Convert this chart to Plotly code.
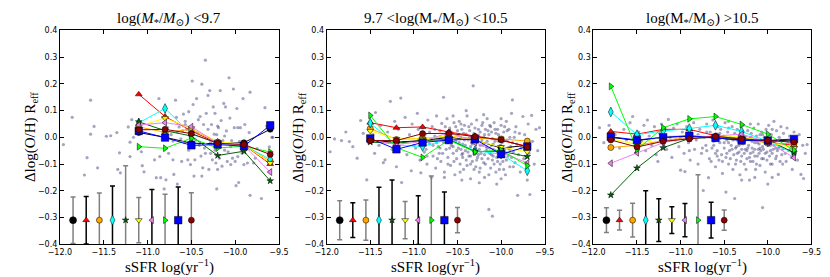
import plotly.graph_objects as go

# ---------------- data ----------------
series_names = ["black", "red", "orange", "cyan", "darkgreen", "yellow", "violet", "lime", "blue", "darkred"]
series_colors = ["#000000", "#ff0000", "#ffa500", "#00ffff", "#006400", "#ffff00", "#ee82ee", "#00ff00", "#0000ff", "#8b0000"]
series_symbols = ["circle", "triangle-up", "circle", "diamond-tall", "star", "triangle-down", "triangle-left", "triangle-right", "square", "circle"]

bins1 = [-11.1, -10.8, -10.5, -10.2, -9.9, -9.6]
vals1 = [
    [0.018, 0.000, -0.022, -0.024, -0.020, 0.030],
    [0.161, 0.078, 0.024, -0.022, -0.028, -0.100],
    [0.039, 0.019, 0.030, -0.018, -0.027, -0.090],
    [0.054, 0.108, 0.012, -0.022, -0.030, -0.082],
    [0.058, 0.025, 0.005, -0.068, -0.052, -0.163],
    [0.041, 0.072, 0.034, -0.016, -0.027, -0.096],
    [0.046, 0.055, 0.040, -0.022, -0.030, -0.130],
    [-0.035, -0.041, -0.003, -0.040, -0.033, -0.055],
    [0.024, -0.001, -0.030, -0.027, -0.033, 0.045],
    [0.028, 0.030, 0.014, -0.022, -0.027, -0.064],
]

bins2 = [-11.5, -11.2, -10.9, -10.6, -10.3, -10.0, -9.7]
vals2 = [
    [-0.012, -0.018, -0.012, 0.000, -0.010, -0.040, -0.030],
    [0.055, 0.036, 0.039, 0.020, 0.005, -0.012, -0.033],
    [0.033, -0.008, -0.004, 0.004, -0.004, -0.006, -0.014],
    [0.053, -0.030, -0.034, -0.007, -0.050, -0.063, -0.125],
    [-0.018, -0.022, -0.012, -0.008, -0.053, -0.052, -0.072],
    [0.024, -0.006, -0.006, 0.006, -0.012, -0.036, -0.054],
    [-0.010, -0.027, -0.016, 0.018, -0.020, -0.054, -0.096],
    [0.082, -0.039, -0.075, -0.010, -0.055, -0.048, -0.106],
    [-0.004, -0.045, -0.019, -0.010, -0.007, -0.063, -0.034],
    [-0.012, -0.012, 0.014, 0.015, 0.003, -0.009, -0.036],
]

bins3 = [-11.8, -11.5, -11.2, -10.9, -10.6, -10.3, -10.0, -9.7]
vals3 = [
    [0.000, -0.012, 0.000, 0.004, -0.002, -0.010, -0.014, -0.010],
    [0.022, 0.012, 0.030, 0.030, 0.006, -0.006, -0.020, -0.030],
    [-0.038, -0.030, -0.012, 0.000, 0.002, -0.004, -0.022, -0.024],
    [0.095, 0.010, 0.024, 0.033, 0.045, 0.022, -0.015, -0.060],
    [-0.216, -0.115, -0.039, -0.004, 0.000, -0.006, -0.010, -0.057],
    [-0.005, -0.027, 0.004, 0.008, 0.002, 0.002, -0.018, -0.040],
    [-0.097, -0.058, -0.020, -0.002, 0.004, 0.012, -0.018, -0.076],
    [0.191, -0.046, 0.036, 0.069, 0.078, 0.048, 0.012, -0.048],
    [0.002, -0.010, 0.000, 0.006, -0.002, -0.012, -0.012, -0.006],
    [-0.010, -0.036, -0.015, -0.006, 0.004, -0.006, -0.012, -0.018],
]

err_x = [-11.85, -11.70, -11.55, -11.40, -11.25, -11.10, -10.95, -10.80, -10.65, -10.50]
err_y = -0.31
err1 = [0.087, 0.089, 0.102, 0.128, 0.204, 0.085, 0.115, 0.097, 0.124, 0.103]
err2 = [0.073, 0.065, 0.075, 0.123, 0.150, 0.070, 0.091, 0.165, 0.105, 0.047]
err3 = [0.046, 0.037, 0.063, 0.110, 0.080, 0.050, 0.062, 0.170, 0.067, 0.038]
errcol1 = ["g", "k", "g", "k", "g", "g", "k", "g", "k", "g"]
errcol2 = ["g", "k", "g", "k", "k", "g", "k", "g", "k", "g"]
errcol3 = ["g", "g", "g", "k", "k", "k", "k", "g", "k", "g"]

scatter1 = [
    (-11.96, -0.027), (-11.86, 0.075), (-11.65, 0.139), (-11.61, 0.041), (-11.65, 0.012), (-11.69, -0.076),
    (-11.72, -0.141), (-11.57, -0.114), (-11.47, 0.004), (-11.42, 0.006), (-11.35, 0.018), (-11.32, -0.058),
    (-11.34, -0.120), (-11.31, -0.133), (-11.22, 0.039), (-11.20, -0.018), (-11.20, -0.072), (-11.18, 0.066),
    (-11.16, 0.000), (-11.07, -0.054), (-11.06, -0.106), (-11.04, -0.129), (-10.92, -0.084), (-10.90, -0.151),
    (-10.87, 0.145), (-10.86, -0.072), (-10.85, -0.151), (-10.81, -0.193), (-10.79, -0.159), (-10.77, 0.036),
    (-10.76, -0.060), (-10.73, 0.010), (-10.71, -0.014), (-10.71, -0.084), (-10.70, -0.139), (-10.68, 0.139),
    (-10.67, 0.075), (-10.66, -0.175), (-10.64, 0.039), (-10.62, -0.006), (-10.61, -0.090), (-10.60, 0.024),
    (-10.59, 0.087), (-10.57, 0.048), (-10.57, 0.060), (-10.55, 0.030), (-10.54, -0.084), (-10.53, 0.096),
    (-10.53, -0.048), (-10.51, -0.102), (-10.49, 0.211), (-10.48, 0.123), (-10.47, -0.036), (-10.47, -0.145),
    (-10.46, -0.084), (-10.44, 0.145), (-10.43, 0.018), (-10.42, 0.066), (-10.41, -0.030), (-10.40, 0.078),
    (-10.38, 0.199), (-10.38, -0.145), (-10.37, -0.114), (-10.36, 0.048), (-10.34, 0.289), (-10.34, -0.060),
    (-10.33, 0.090), (-10.31, 0.030), (-10.31, 0.157), (-10.30, -0.120), (-10.29, 0.175), (-10.28, -0.018),
    (-10.27, 0.048), (-10.26, -0.084), (-10.25, 0.114), (-10.24, 0.012), (-10.23, 0.090), (-10.23, -0.048),
    (-10.22, -0.096), (-10.21, -0.193), (-10.20, -0.120), (-10.20, 0.042), (-10.19, 0.036), (-10.18, -0.078),
    (-10.17, 0.175), (-10.16, 0.063), (-10.15, -0.108), (-10.14, -0.012), (-10.13, 0.127), (-10.12, -0.048),
    (-10.11, 0.114), (-10.10, 0.024), (-10.09, -0.090), (-10.08, -0.054), (-10.07, 0.223), (-10.06, 0.072),
    (-10.05, -0.102), (-10.04, -0.012), (-10.03, -0.078), (-10.02, 0.181), (-10.01, 0.036), (-10.00, -0.090),
    (-9.99, -0.181), (-9.98, 0.108), (-9.97, 0.036), (-9.97, -0.072), (-9.96, -0.169), (-9.94, 0.036),
    (-9.92, -0.060), (-9.91, 0.145), (-9.90, -0.102), (-9.89, 0.048), (-9.88, -0.030), (-9.86, -0.096),
    (-9.84, 0.018), (-9.83, 0.169), (-9.83, -0.217), (-9.79, -0.096), (-9.77, -0.078), (-9.75, -0.042),
    (-9.70, -0.229), (-9.66, 0.111), (-9.64, 0.042), (-9.61, -0.036), (-9.58, 0.000), (-9.57, 0.000),
    (-10.45, -0.010), (-10.35, -0.040), (-10.28, -0.060), (-10.18, -0.025), (-10.12, 0.005), (-10.05, -0.035),
    (-10.58, -0.020), (-10.66, 0.020), (-10.39, -0.070), (-10.21, 0.010), (-9.95, -0.015), (-10.52, 0.005),
]

scatter2 = [
    (-11.96, -0.054), (-11.91, -0.006), (-11.83, -0.012), (-11.78, 0.020), (-11.74, -0.016), (-11.70, -0.035),
    (-11.65, -0.078), (-11.61, 0.063), (-11.58, 0.015), (-11.54, -0.159), (-11.52, -0.020), (-11.47, 0.010),
    (-11.45, -0.060), (-11.44, 0.093), (-11.40, -0.030), (-11.38, 0.045), (-11.35, -0.095), (-11.33, -0.084),
    (-11.30, 0.020), (-11.27, 0.135), (-11.25, -0.045), (-11.22, 0.060), (-11.20, -0.110), (-11.18, 0.030),
    (-11.15, 0.147), (-11.14, -0.169), (-11.12, -0.020), (-11.10, 0.075), (-11.08, -0.065), (-11.05, 0.010),
    (-11.03, -0.125), (-11.02, 0.050),
    (-10.98, -0.040), (-10.96, 0.090), (-10.95, -0.010), (-10.93, -0.085), (-10.92, -0.133), (-10.90, 0.035),
    (-10.88, -0.055), (-10.87, 0.012), (-10.85, -0.100), (-10.84, 0.065), (-10.82, -0.025), (-10.80, -0.150),
    (-10.79, 0.040), (-10.78, -0.070), (-10.76, 0.005), (-10.75, -0.115), (-10.74, 0.080), (-10.72, -0.035),
    (-10.71, -0.060), (-10.70, 0.025), (-10.69, -0.090), (-10.68, 0.052), (-10.66, 0.150), (-10.66, -0.018),
    (-10.65, -0.130), (-10.64, 0.010), (-10.63, -0.045), (-10.62, 0.070), (-10.61, -0.075), (-10.60, -0.005),
    (-10.59, 0.035), (-10.58, -0.105), (-10.57, -0.030), (-10.56, 0.015), (-10.55, -0.060), (-10.54, 0.055),
    (-10.53, -0.140), (-10.52, -0.015), (-10.51, -0.080), (-10.50, 0.025),
    (-10.49, -0.040), (-10.48, 0.060), (-10.47, -0.100), (-10.46, 0.000), (-10.45, -0.065), (-10.45, 0.030),
    (-10.44, -0.025), (-10.43, -0.120), (-10.42, 0.045), (-10.41, -0.050), (-10.40, 0.012), (-10.40, -0.085),
    (-10.39, 0.080), (-10.38, -0.010), (-10.37, -0.070), (-10.36, 0.025), (-10.35, -0.035), (-10.35, -0.155),
    (-10.34, 0.050), (-10.33, -0.090), (-10.32, 0.193), (-10.32, -0.005), (-10.31, -0.055), (-10.30, 0.035),
    (-10.29, -0.110), (-10.28, -0.020), (-10.28, 0.065), (-10.27, -0.075), (-10.26, 0.008), (-10.25, -0.045),
    (-10.25, -0.130), (-10.24, 0.020), (-10.23, -0.060), (-10.22, 0.045), (-10.21, -0.030), (-10.20, -0.095),
    (-10.20, 0.000), (-10.19, -0.150), (-10.18, 0.030), (-10.17, -0.050), (-10.16, -0.015), (-10.16, 0.070),
    (-10.15, -0.080), (-10.14, -0.270), (-10.14, 0.010), (-10.13, -0.040), (-10.12, -0.115), (-10.12, 0.040),
    (-10.11, -0.065), (-10.10, -0.295), (-10.10, -0.005), (-10.09, -0.025), (-10.08, 0.055), (-10.08, -0.100),
    (-10.07, -0.050), (-10.06, 0.015), (-10.05, -0.075), (-10.05, -0.175), (-10.04, 0.030), (-10.03, -0.035),
    (-10.02, -0.120), (-10.02, 0.000), (-10.01, -0.060), (-10.00, 0.045),
    (-9.99, -0.020), (-9.98, -0.090), (-9.97, 0.020), (-9.96, -0.045), (-9.95, -0.140), (-9.94, 0.060),
    (-9.93, -0.010), (-9.92, -0.070), (-9.91, 0.030), (-9.90, -0.110), (-9.89, -0.035), (-9.88, 0.090),
    (-9.87, 0.140), (-9.86, -0.055), (-9.85, 0.000), (-9.84, -0.095), (-9.83, 0.040), (-9.82, -0.025),
    (-9.81, -0.217), (-9.80, -0.065), (-9.79, 0.015), (-9.78, -0.130), (-9.77, -0.040), (-9.75, 0.078),
    (-9.74, -0.080), (-9.73, 0.010), (-9.72, -0.030), (-9.70, -0.160), (-9.69, 0.050), (-9.68, -0.060),
    (-9.67, -0.214), (-9.65, 0.082), (-9.64, -0.015), (-9.62, -0.100), (-9.60, 0.030), (-9.58, -0.050),
    (-9.56, 0.036),
    (-10.62, -0.020), (-10.58, 0.005), (-10.55, -0.035), (-10.52, 0.040), (-10.48, -0.020), (-10.46, -0.045),
    (-10.43, 0.015), (-10.41, -0.030), (-10.38, -0.055), (-10.36, 0.000), (-10.34, -0.020), (-10.31, 0.015),
    (-10.29, -0.040), (-10.27, -0.010), (-10.24, -0.030), (-10.22, -0.080), (-10.19, 0.010), (-10.17, -0.035),
    (-10.15, 0.025), (-10.13, -0.060), (-10.11, 0.020), (-10.09, -0.045), (-10.07, -0.015), (-10.04, -0.055),
    (-10.01, -0.030), (-9.98, 0.000), (-9.95, -0.060), (-9.93, 0.025), (-9.90, -0.045), (-9.87, -0.020),
    (-10.70, -0.040), (-10.74, -0.020), (-10.80, -0.005), (-10.86, -0.045), (-10.92, 0.005), (-11.00, -0.030),
    (-10.44, -0.075), (-10.26, -0.065), (-10.10, -0.085), (-10.35, -0.100),
    (-10.78, -0.030), (-10.76, 0.030), (-10.73, -0.080), (-10.69, 0.000), (-10.67, -0.060), (-10.64, 0.040),
    (-10.61, -0.100), (-10.59, -0.040), (-10.57, 0.020), (-10.54, -0.090), (-10.51, -0.050), (-10.49, 0.010),
    (-10.47, -0.130), (-10.46, 0.050), (-10.44, -0.060), (-10.42, -0.010), (-10.39, -0.105), (-10.37, 0.040),
    (-10.35, -0.070), (-10.33, -0.025), (-10.31, -0.120), (-10.30, 0.000), (-10.28, -0.085), (-10.26, 0.030),
    (-10.24, -0.115), (-10.22, -0.010), (-10.21, 0.055), (-10.19, -0.065), (-10.18, -0.100), (-10.16, -0.040),
    (-10.14, -0.140), (-10.13, 0.045), (-10.11, -0.030), (-10.09, -0.070), (-10.07, 0.030), (-10.06, -0.130),
    (-10.04, -0.090), (-10.03, 0.010), (-10.01, -0.100), (-9.99, -0.050), (-9.97, -0.120), (-9.96, 0.040),
    (-9.94, -0.085), (-9.92, -0.040), (-9.90, 0.000), (-9.88, -0.075), (-9.86, -0.110), (-9.84, 0.020),
    (-10.55, 0.080), (-10.40, 0.100), (-10.20, 0.085), (-10.00, 0.070), (-10.65, -0.150), (-10.45, -0.160),
    (-10.25, -0.170), (-10.00, -0.155), (-10.85, -0.070), (-10.90, -0.020), (-10.95, 0.030), (-10.82, 0.020),
]

scatter3 = [
    (-11.93, 0.036), (-11.88, -0.020), (-11.82, 0.045), (-11.75, 0.010), (-11.70, -0.040), (-11.65, 0.030),
    (-11.62, -0.010), (-11.58, 0.055), (-11.55, 0.078), (-11.52, -0.030), (-11.48, 0.020), (-11.45, -0.015),
    (-11.42, 0.045), (-11.40, -0.050), (-11.38, 0.065), (-11.36, 0.005), (-11.33, -0.030), (-11.30, 0.040),
    (-11.28, -0.065), (-11.26, -0.090), (-11.24, 0.015), (-11.22, 0.050), (-11.20, -0.020), (-11.18, 0.030),
    (-11.16, -0.045), (-11.14, 0.067), (-11.12, 0.000), (-11.10, -0.075), (-11.08, 0.035), (-11.06, -0.010),
    (-11.04, 0.050), (-11.02, -0.035), (-11.00, -0.123), (-10.98, 0.020), (-10.96, -0.060), (-10.95, -0.128),
    (-10.93, 0.040), (-10.91, -0.020), (-10.89, -0.085), (-10.87, 0.010), (-10.85, 0.055), (-10.84, -0.045),
    (-10.82, -0.010), (-10.80, -0.100), (-10.78, 0.030), (-10.76, -0.060), (-10.74, -0.199), (-10.73, 0.000),
    (-10.71, -0.030), (-10.70, 0.050), (-10.68, -0.151), (-10.67, -0.080), (-10.66, 0.020), (-10.64, -0.040),
    (-10.63, 0.065), (-10.62, -0.015), (-10.60, -0.110), (-10.59, 0.010), (-10.58, -0.050), (-10.57, 0.040),
    (-10.56, -0.085), (-10.55, -0.020), (-10.54, 0.030), (-10.53, -0.065), (-10.52, -0.135), (-10.51, 0.005),
    (-10.50, -0.040),
    (-10.49, 0.055), (-10.48, -0.205), (-10.48, -0.075), (-10.47, -0.010), (-10.46, 0.020), (-10.45, -0.100),
    (-10.44, -0.050), (-10.43, 0.000), (-10.42, -0.030), (-10.41, 0.040), (-10.40, -0.120), (-10.39, -0.065),
    (-10.38, -0.229), (-10.38, 0.015), (-10.37, -0.040), (-10.36, -0.085), (-10.35, 0.030), (-10.34, -0.015),
    (-10.33, -0.055), (-10.32, -0.140), (-10.31, 0.010), (-10.30, -0.070), (-10.29, -0.025), (-10.28, 0.045),
    (-10.27, -0.100), (-10.26, -0.045), (-10.25, 0.000), (-10.24, -0.080), (-10.23, 0.025), (-10.22, -0.030),
    (-10.21, -0.160), (-10.20, -0.060), (-10.19, 0.015), (-10.18, -0.015), (-10.17, -0.090), (-10.16, 0.035),
    (-10.15, -0.045), (-10.14, -0.120), (-10.13, 0.005), (-10.12, -0.070), (-10.11, 0.050), (-10.10, -0.025),
    (-10.09, -0.105), (-10.08, -0.050), (-10.07, 0.020), (-10.06, -0.263), (-10.06, -0.035), (-10.05, -0.080),
    (-10.04, 0.000), (-10.03, -0.130), (-10.02, 0.030), (-10.01, -0.055), (-10.00, -0.175), (-10.00, -0.015),
    (-9.99, 0.045), (-9.98, -0.070), (-9.97, -0.030), (-9.96, 0.010), (-9.95, -0.100), (-9.94, -0.045),
    (-9.93, 0.060), (-9.92, -0.015), (-9.91, -0.080), (-9.90, 0.025), (-9.89, -0.050), (-9.88, -0.139),
    (-9.87, 0.000), (-9.86, -0.035), (-9.85, 0.040), (-9.84, -0.065), (-9.83, -0.100), (-9.82, 0.015),
    (-9.80, -0.025), (-9.79, -0.090), (-9.78, 0.035), (-9.76, -0.050), (-9.75, 0.005), (-9.73, -0.075),
    (-9.72, -0.120), (-9.70, 0.020), (-9.68, -0.040), (-9.66, -0.085), (-9.64, 0.010), (-9.62, -0.139),
    (-9.60, -0.030), (-9.59, -0.154), (-9.57, -0.060), (-9.55, -0.027),
    (-10.45, -0.020), (-10.40, -0.010), (-10.36, -0.035), (-10.33, 0.005), (-10.30, -0.045), (-10.27, -0.015),
    (-10.24, -0.050), (-10.21, -0.005), (-10.18, -0.040), (-10.15, -0.070), (-10.12, -0.020), (-10.09, -0.040),
    (-10.06, 0.010), (-10.03, -0.060), (-10.00, -0.030), (-9.97, -0.050), (-9.94, -0.020), (-9.91, -0.040),
    (-10.55, -0.005), (-10.60, -0.060), (-10.65, 0.000), (-10.70, -0.050), (-10.20, -0.090), (-10.10, -0.060),
    (-9.85, -0.010),
    (-10.62, -0.030), (-10.58, -0.070), (-10.55, 0.015), (-10.52, -0.090), (-10.50, -0.020), (-10.47, -0.060),
    (-10.45, 0.035), (-10.43, -0.080), (-10.41, -0.045), (-10.39, -0.005), (-10.37, -0.100), (-10.35, -0.060),
    (-10.33, -0.030), (-10.31, -0.090), (-10.29, 0.020), (-10.27, -0.060), (-10.25, -0.120), (-10.23, -0.040),
    (-10.21, -0.075), (-10.19, 0.000), (-10.17, -0.055), (-10.15, -0.020), (-10.13, -0.100), (-10.11, -0.045),
    (-10.09, 0.010), (-10.07, -0.080), (-10.05, -0.045), (-10.03, -0.010), (-10.01, -0.085), (-9.99, -0.020),
    (-9.97, -0.100), (-9.95, -0.060), (-9.93, -0.030), (-9.90, -0.070), (-9.88, -0.040), (-9.86, -0.090),
    (-9.83, -0.045), (-9.80, -0.060), (-9.77, -0.020), (-9.74, -0.045), (-10.80, 0.010), (-10.75, -0.040),
    (-10.70, 0.020), (-10.65, -0.090), (-11.00, 0.000), (-10.90, -0.050), (-10.30, -0.160), (-10.15, -0.150),
    (-9.95, -0.150), (-10.45, 0.060), (-10.20, 0.050), (-9.95, 0.030),
]

titles = [
    "log(<i>M</i><sub>*</sub>/<i>M</i><sub>⊙</sub>) &lt;9.7",
    "9.7 &lt;log(M<sub>*</sub>/M<sub>⊙</sub>) &lt;10.5",
    "log(M<sub>*</sub>/M<sub>⊙</sub>) &gt;10.5",
]
xlabel = "sSFR log(yr<sup>−1</sup>)"
ylabel = "Δlog(O/H) R<sub>eff</sub>"
xticks = [-12.0, -11.5, -11.0, -10.5, -10.0, -9.5]
yticks = [0.4, 0.3, 0.2, 0.1, 0.0, -0.1, -0.2, -0.3, -0.4]

# ---------------- figure ----------------
fig = go.Figure()
panels = [
    (bins1, vals1, err1, errcol1, scatter1),
    (bins2, vals2, err2, errcol2, scatter2),
    (bins3, vals3, err3, errcol3, scatter3),
]
xdomains = [[0.0494, 0.3205], [0.3795, 0.6494], [0.7096, 0.9795]]
ydomain = [0.1336, 0.931]
SERIF = "Liberation Serif, DejaVu Serif, serif"
SANS = "DejaVu Sans, sans-serif"

SIZES = {"circle": 6, "triangle-up": 6, "diamond-tall": 7, "star": 5, "triangle-down": 6,
         "triangle-left": 6, "triangle-right": 6, "square": 7.5}

for p, (bins, vals, errs, ecols, sc) in enumerate(panels):
    xa = "x" if p == 0 else f"x{p+1}"
    ya = "y" if p == 0 else f"y{p+1}"
    fig.add_trace(go.Scatter(
        x=[a for a, b in sc], y=[b for a, b in sc], mode="markers", xaxis=xa, yaxis=ya,
        marker=dict(size=3.2, color="rgba(40,40,110,0.42)", line=dict(width=0)),
        showlegend=False, hoverinfo="skip"))
    for i in range(10):
        fig.add_trace(go.Scatter(
            x=bins, y=vals[i], mode="lines+markers", xaxis=xa, yaxis=ya,
            line=dict(color=series_colors[i], width=1),
            marker=dict(symbol=series_symbols[i], size=SIZES[series_symbols[i]], color=series_colors[i],
                        line=dict(color="black", width=0.5)),
            showlegend=False))
    for i in range(10):
        ec = "#808080" if ecols[i] == "g" else "#000000"
        size = 7 if i == 0 else SIZES[series_symbols[i]]
        fig.add_trace(go.Scatter(
            x=[err_x[i]], y=[err_y], mode="markers", xaxis=xa, yaxis=ya,
            error_y=dict(type="data", array=[errs[i]], color=ec, thickness=1.5, width=2.5),
            marker=dict(symbol=series_symbols[i], size=size, color=series_colors[i],
                        line=dict(color="black", width=0.5)),
            showlegend=False))

axis_common = dict(showgrid=False, zeroline=False, showline=True, linecolor="black", linewidth=1,
                   mirror="ticks", ticks="inside", ticklen=4, tickcolor="black",
                   tickfont=dict(family=SANS, size=8, color="black"))
layout = dict(width=830, height=277, margin=dict(l=0, r=0, t=0, b=0),
              paper_bgcolor="white", plot_bgcolor="white", showlegend=False)
for p in range(3):
    xk = "xaxis" if p == 0 else f"xaxis{p+1}"
    yk = "yaxis" if p == 0 else f"yaxis{p+1}"
    layout[xk] = dict(axis_common, domain=xdomains[p], range=[-12, -9.5], tickvals=xticks,
                      tickformat=".1f", anchor="y" if p == 0 else f"y{p+1}")
    layout[yk] = dict(axis_common, domain=ydomain, range=[-0.4, 0.4], tickvals=yticks,
                      tickformat=".1f", anchor="x" if p == 0 else f"x{p+1}")
fig.update_layout(**layout)

ann = []
ylab_x = [12 / 830, 287 / 830, 563 / 830]
for p in range(3):
    cx = (xdomains[p][0] + xdomains[p][1]) / 2
    ann.append(dict(text=titles[p], x=cx, y=ydomain[1], xref="paper", yref="paper",
                    xanchor="center", yanchor="bottom", yshift=0, showarrow=False,
                    font=dict(family=SERIF, size=15, color="black")))
    ann.append(dict(text=xlabel, x=cx, y=1 - 263 / 277, xref="paper", yref="paper",
                    xanchor="center", yanchor="middle", showarrow=False,
                    font=dict(family=SERIF, size=15, color="black")))
    ann.append(dict(text=ylabel, x=ylab_x[p], y=(ydomain[0] + ydomain[1]) / 2, xref="paper", yref="paper",
                    xanchor="center", yanchor="middle", textangle=-90, showarrow=False,
                    font=dict(family=SERIF, size=15, color="black")))
fig.update_layout(annotations=ann)

fig.write_html("out.html")
